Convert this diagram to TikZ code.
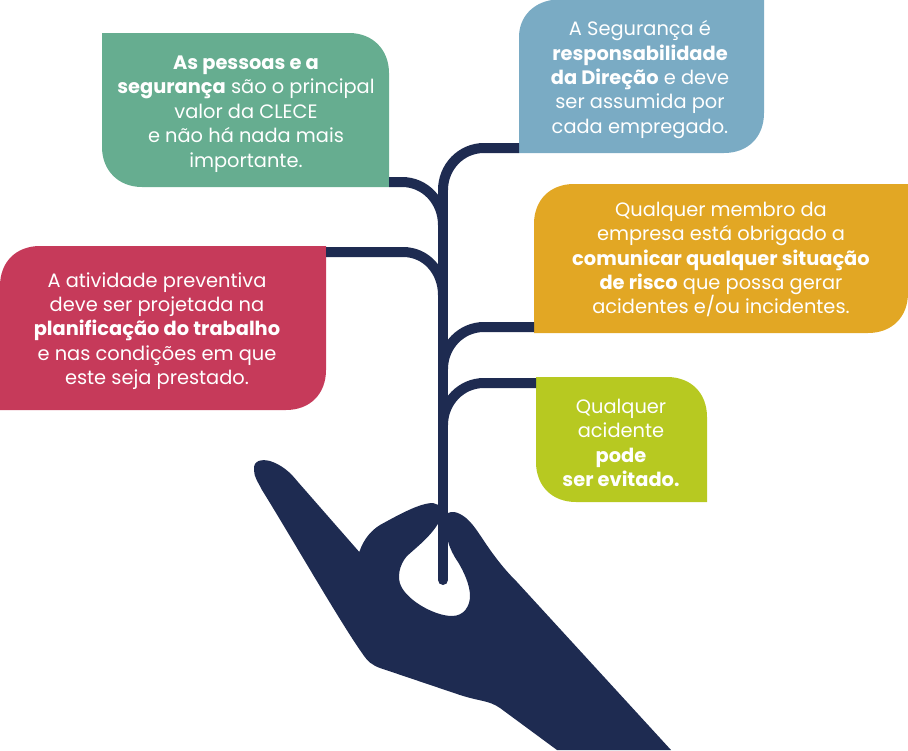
\documentclass[tikz,border=0pt]{standalone}
\usepackage{fontspec}
\setmainfont{Poppins}
\definecolor{navy}{HTML}{1E2B51}
\definecolor{cgreen}{HTML}{66AD90}
\definecolor{cblue}{HTML}{7AABC4}
\definecolor{cred}{HTML}{C63A5A}
\definecolor{corange}{HTML}{E2A724}
\definecolor{clime}{HTML}{B7C921}
\tikzset{
  branch/.style={draw=navy,line width=10pt},
  label/.style={text=white,align=center,font=\fontsize{19.4}{24.4}\selectfont,inner sep=0pt},
}
\begin{document}
\begin{tikzpicture}[x=1pt,y=-1pt]
\useasboundingbox (0,0) rectangle (908,750);
% boxes
\fill[cgreen] (102,33) -- (349,33) .. controls (373,33) and (389,50) .. (389,73) -- (389,187) -- (142,187) .. controls (118,187) and (102,170) .. (102,147) -- cycle;
\fill[cblue] (552,0) -- (764,0) -- (764,113) .. controls (764,137) and (748,153) .. (724,153) -- (519,153) -- (519,37) .. controls (519,18) and (532,3) .. (552,0) -- cycle;
\fill[corange] (574,184) -- (908,184) -- (908,293) .. controls (908,317) and (892,333) .. (868,333) -- (534,333) -- (534,224) .. controls (534,200) and (550,184) .. (574,184) -- cycle;
\fill[cred] (40,246) -- (326,246) -- (326,370) .. controls (326,394) and (310,410) .. (286,410) -- (0,410) -- (0,286) .. controls (0,262) and (16,246) .. (40,246) -- cycle;
\fill[clime] (536,377) -- (667,377) .. controls (691,377) and (707,393) .. (707,417) -- (707,502) -- (576,502) .. controls (552,502) and (536,486) .. (536,462) -- cycle;
% hand
\fill[navy] (254,470) .. controls (253,460) and (262,459) .. (270,461)
 .. controls (282,465) and (290,472) .. (298,482)
 -- (359.3,552)
 .. controls (364,538) and (372,530) .. (380,525)
 .. controls (400,514) and (420,503) .. (433,503)
 -- (438.5,505) -- (438.5,523)
 .. controls (430,537) and (418,546) .. (407,556)
 .. controls (399,565) and (397,578) .. (401,586)
 .. controls (408,601) and (435,616) .. (452,616)
 .. controls (464,616) and (470,606) .. (470,596)
 .. controls (470,585) and (464,572) .. (458,562)
 .. controls (453,555) and (449,546) .. (448,541)
 -- (448,513) .. controls (452,511) and (456,512) .. (460,514)
 .. controls (468,518) and (474,526) .. (480,535)
 .. controls (490,550) and (500,565) .. (517,582)
 -- (671,750) -- (557,750) -- (500,708)
 .. controls (488,700) and (482,702) .. (460,695)
 -- (380,668)
 .. controls (372,665) and (368,662) .. (362,653)
 .. controls (340,622) and (290,535) .. (262,490)
 .. controls (258,482) and (254,477) .. (254,470) -- cycle;
% stem and branches
\coordinate (base) at (443,580);
\node[inner sep=0pt,minimum size=0pt] (g) at (389,182) {};
\node[inner sep=0pt,minimum size=0pt] (b) at (519,148) {};
\node[inner sep=0pt,minimum size=0pt] (r) at (326,252) {};
\node[inner sep=0pt,minimum size=0pt] (o) at (534,327) {};
\node[inner sep=0pt,minimum size=0pt] (l) at (536,383) {};
\draw[branch,line cap=round] (base) -- (443,190);
\draw[branch] (b.center) -- (484,148) .. controls (461,148) and (443,167) .. (443,190);
\draw[branch] (g.center) -- (402,182) .. controls (425,182) and (443,201) .. (443,225);
\draw[branch] (r.center) -- (403,252) .. controls (426,252) and (443,271) .. (443,295);
\draw[branch] (o.center) -- (484,327) .. controls (461,327) and (443,346) .. (443,369);
\draw[branch] (l.center) -- (484,383) .. controls (461,383) and (443,402) .. (443,425);
% labels
\node[label] (tg) at (246,114) {\textbf{As pessoas e a}\\\textbf{segurança} são o principal\\valor da CLECE\\e não há nada mais\\importante.};
\node[label] (tb) at (640,79.5) {A Segurança é\\\textbf{responsabilidade}\\\textbf{da Direção} e deve\\ser assumida por\\cada empregado.};
\node[label] (to) at (721,259.5) {Qualquer membro da\\empresa está obrigado a\\\textbf{comunicar qualquer situação}\\\textbf{de risco} que possa gerar\\acidentes e/ou incidentes.};
\node[label] (tr) at (157,331) {A atividade preventiva\\deve ser projetada na\\\textbf{planificação do trabalho}\\e nas condições em que\\este seja prestado.};
\node[label] (tl) at (621,443) {Qualquer\\acidente\\\textbf{pode}\\\textbf{ser evitado.}};
\end{tikzpicture}
\end{document}
